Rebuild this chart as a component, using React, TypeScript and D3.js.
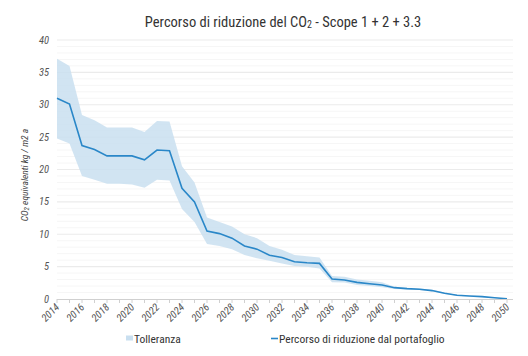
import React from "react";
import * as d3 from "d3";

const years = d3.range(2014, 2051);
const pathValues = [31.0, 30.1, 23.7, 23.1, 22.1, 22.1, 22.1, 21.5, 23.0, 22.9, 17.1, 15.0, 10.5, 10.1, 9.4, 8.2, 7.7, 6.75, 6.4, 5.76, 5.6, 5.5, 3.1, 2.93, 2.57, 2.36, 2.16, 1.75, 1.6, 1.5, 1.3, 0.9, 0.57, 0.46, 0.36, 0.2, 0.05];
const upperValues = [37.1, 36.0, 28.4, 27.6, 26.5, 26.5, 26.5, 25.8, 27.5, 27.4, 20.5, 18.0, 12.6, 11.9, 11.2, 10.0, 9.4, 8.2, 7.6, 6.8, 6.6, 6.4, 3.55, 3.45, 3.0, 2.8, 2.6, 1.9, 1.75, 1.62, 1.42, 1.0, 0.65, 0.52, 0.4, 0.24, 0.07];
const lowerValues = [24.8, 24.0, 19.0, 18.4, 17.8, 17.8, 17.7, 17.2, 18.4, 18.3, 13.9, 11.9, 8.5, 8.2, 7.7, 6.8, 6.3, 5.9, 5.5, 5.1, 5.0, 4.7, 2.6, 2.55, 2.15, 2.0, 1.8, 1.55, 1.45, 1.38, 1.18, 0.8, 0.5, 0.4, 0.32, 0.16, 0.03];
const yTicks = [0, 5, 10, 15, 20, 25, 30, 35, 40];
const xLabelYears = d3.range(2014, 2051, 2);
const title = "Percorso di riduzione del CO";
const titleRest = " - Scope 1 + 2 + 3.3";
const legendBand = "Tolleranza";
const legendLine = "Percorso di riduzione dal portafoglio";

const FONT = "'Liberation Sans Narrow', 'Roboto Condensed', 'DejaVu Sans Condensed', sans-serif";

export default function App() {
  const W = 528, H = 356;
  const x = d3.scaleLinear().domain([2014, 2050]).range([57, 507]);
  const y = d3.scaleLinear().domain([0, 40]).range([299, 40]);
  const data = years.map((yr, i) => ({ yr, v: pathValues[i], hi: upperValues[i], lo: lowerValues[i] }));
  const area = d3.area<any>().x(d => x(d.yr)).y0(d => y(d.lo)).y1(d => y(d.hi));
  const line = d3.line<any>().x(d => x(d.yr)).y(d => y(d.v));
  const minor = d3.range(0, 41, 1).filter(v => v % 5 !== 0);
  const gx0 = 57, gx1 = 513;
  return (
    <svg width={W} height={H} style={{ position: "absolute", left: 0, top: 0, background: "#fff" }} fontFamily={FONT}>
      <text x={283} y={27} textAnchor="middle" fontSize={14.5} fill="#333">
        {title}<tspan fontSize={10} dy={1}>2</tspan><tspan dy={-1}>{titleRest}</tspan>
      </text>
      {minor.map(v => (
        <line key={"m" + v} x1={gx0} x2={gx1} y1={y(v)} y2={y(v)} stroke="#f6f6f6" strokeWidth={1} />
      ))}
      {yTicks.filter(v => v > 0).map(v => (
        <line key={"g" + v} x1={gx0} x2={gx1} y1={y(v)} y2={y(v)} stroke="#ebebeb" strokeWidth={1.2} />
      ))}
      <path d={area(data) || ""} fill="#c9dff0" fillOpacity={0.85} />
      <path d={line(data) || ""} fill="none" stroke="#2a87c8" strokeWidth={1.6} />
      <line x1={gx0} x2={gx1} y1={y(0) + 0.5} y2={y(0) + 0.5} stroke="#d0d0d0" strokeWidth={1} />
      {years.map(yr => (
        <line key={"t" + yr} x1={x(yr)} x2={x(yr)} y1={y(0)} y2={y(0) + 4} stroke="#d0d0d0" />
      ))}
      {yTicks.map(v => (
        <text key={"yl" + v} x={49} y={y(v) + 3.5} textAnchor="end" fontSize={10.5} fontStyle="italic" fill="#555">{v}</text>
      ))}
      {xLabelYears.map(yr => (
        <text key={"xl" + yr} transform={`translate(${x(yr) + 3},${y(0) + 9}) rotate(-45)`} textAnchor="end" fontSize={10.5} fontStyle="italic" fill="#555">{yr}</text>
      ))}
      <text transform={`translate(28,175) rotate(-90)`} textAnchor="middle" fontSize={9.5} fontStyle="italic" fill="#444">
        CO<tspan fontSize={7} dy={1}>2</tspan><tspan dy={-1}> equivalenti kg / m2 a</tspan>
      </text>
      <rect x={126} y={335.5} width={7} height={5} fill="#c9dff0" />
      <text x={134} y={343} fontSize={11.5} fill="#333">{legendBand}</text>
      <line x1={271} x2={278} y1={338.5} y2={338.5} stroke="#2a87c8" strokeWidth={1.6} />
      <text x={279} y={343} fontSize={11.5} fill="#333">{legendLine}</text>
    </svg>
  );
}
